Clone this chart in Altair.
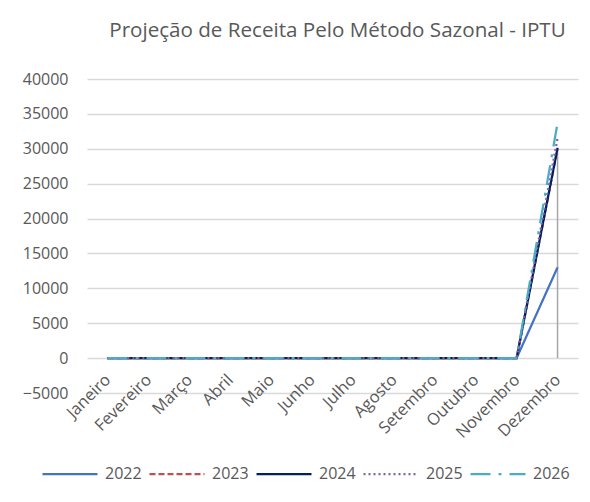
import altair as alt
import pandas as pd

months = ["Janeiro", "Fevereiro", "Março", "Abril", "Maio", "Junho",
          "Julho", "Agosto", "Setembro", "Outubro", "Novembro", "Dezembro"]
years = ["2022", "2023", "2024", "2025", "2026"]

v2022 = [0, 0, 0, 0, 0, 0, 0, 0, 0, 0, 0, 13000]
v2023 = [0, 0, 0, 0, 0, 0, 0, 0, 0, 0, 0, 30000]
v2024 = [0, 0, 0, 0, 0, 0, 0, 0, 0, 0, 0, 30100]
v2025 = [0, 0, 0, 0, 0, 0, 0, 0, 0, 0, 0, 31500]
v2026 = [0, 0, 0, 0, 0, 0, 0, 0, 0, 0, 0, 33700]
series = [v2022, v2023, v2024, v2025, v2026]

y_ticks = [-5000, 0, 5000, 10000, 15000, 20000, 25000, 30000, 35000, 40000]

# vertical drop line at the last month
rule_month = ["Dezembro"]
rule_low = [0]
rule_high = [30200]

colors = ["#4472C4", "#C0504D", "#002060", "#8064A2", "#4BACC6"]
dashes = [[1, 0], [6, 3], [1, 0], [2, 3], [20, 8, 3, 8]]
widths = [2.25, 2.25, 3.25, 2.25, 3]

rows = []
for yr, vals in zip(years, series):
    for m, v in zip(months, vals):
        rows.append({"Mes": m, "Valor": v, "Ano": yr})
df = pd.DataFrame(rows)

rule_df = pd.DataFrame({"Mes": rule_month, "low": rule_low, "high": rule_high})

x_enc = alt.X("Mes:N", sort=months, title=None,
              scale=alt.Scale(type="point", padding=0.5),
              axis=alt.Axis(labelAngle=315, labelAlign="right", labelBaseline="middle",
                            labelPadding=19, offset=-35, domain=False, ticks=False,
                            grid=False, labelFontSize=16.5, labelOverlap=False,
                            labelBound=False, labelFlush=False))

y_scale = alt.Scale(domain=[-5000, 40000], nice=False, zero=False)
y_axis = alt.Axis(values=y_ticks, format="d", domain=False, ticks=False,
                  labelPadding=19, gridColor="#d9d9d9", gridWidth=1.5,
                  labelOverlap=False, tickCount=10)

lines = alt.Chart(df).mark_line().encode(
    x=x_enc,
    y=alt.Y("Valor:Q", title=None, scale=y_scale, axis=y_axis),
    color=alt.Color("Ano:N", scale=alt.Scale(domain=years, range=colors), title=None),
    strokeDash=alt.StrokeDash("Ano:N", scale=alt.Scale(domain=years, range=dashes), title=None),
    strokeWidth=alt.StrokeWidth("Ano:N", scale=alt.Scale(domain=years, range=widths), title=None),
)

rule = alt.Chart(rule_df).mark_rule(color="#a6a6a6", strokeWidth=1.5).encode(
    x=x_enc,
    y=alt.Y("low:Q", title=None, scale=y_scale, axis=y_axis),
    y2="high:Q",
)

chart = alt.layer(rule, lines).properties(
    width=491,
    height=314,
    autosize=alt.AutoSizeParams(type="none"),
    padding={"left": 79, "top": 71, "right": 4, "bottom": 101},
    title=alt.TitleParams("Projeção de Receita Pelo Método Sazonal - IPTU",
                          fontSize=20.6, color="#595959", font="Open Sans",
                          fontWeight="normal", anchor="middle", offset=29, dx=5),
).configure_view(stroke=None).configure_axis(
    labelFont="Open Sans", labelColor="#595959", labelFontSize=16,
).configure_legend(
    orient="none", legendX=-46, legendY=366, direction="horizontal",
    symbolType="stroke", symbolSize=3025,
    labelFont="Open Sans", labelFontSize=16, labelColor="#595959",
    labelOffset=6, columnPadding=3,
)

chart.save("out.html", embed_options={"renderer": "svg", "actions": False})
